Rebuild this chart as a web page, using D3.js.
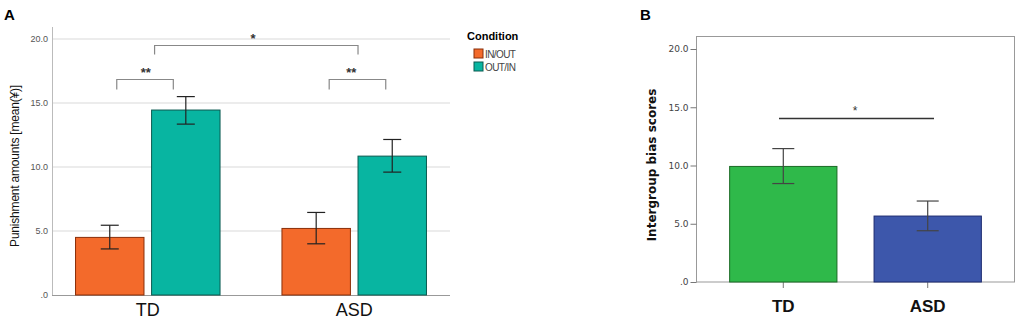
<!DOCTYPE html>
<html lang="en">
<head>
<meta charset="UTF-8">
<title>Punishment / bias</title>
<script src="https://cdn.jsdelivr.net/npm/d3@7"></script>
<style>
    body { margin: 0; background: #fff; }
    svg { font-family: "Liberation Sans", Arial, sans-serif; }
    .tickA text { font-size: 9px; fill: #555; }
    .tickB text { font-size: 9px; fill: #444; font-family: "DejaVu Sans", sans-serif; }
</style>
</head>
<body>
<script>
// ---- data ----
var groups = ["TD", "ASD"];
var conditions = ["IN/OUT", "OUT/IN"];
var condColors = ["#f36a2b", "#08b5a1"];
var condStroke = ["#8a2e08", "#0a5a50"];
var meanIn = [4.5, 5.2];          // IN/OUT
var meanOut = [14.45, 10.85];     // OUT/IN
var ciInLow = [3.6, 4.0], ciInHigh = [5.45, 6.45];
var ciOutLow = [13.35, 9.6], ciOutHigh = [15.5, 12.15];
var yTicks = [0, 5, 10, 15, 20];

var biasMean = [9.92, 5.66];
var biasLow = [8.45, 4.4];
var biasHigh = [11.45, 6.95];
var biasColors = ["#2fb94a", "#3d57ab"];
var biasStroke = ["#1a6a25", "#1c2a70"];

var width = 1021, height = 322;
var svg = d3.select("body").append("svg")
    .attr("width", width).attr("height", height);

// ================= Panel A =================
var yA = d3.scaleLinear().domain([0, 20]).range([295, 39]);
var xA = d3.scaleBand().domain(groups).range([52, 450])
    .paddingInner(0.3).paddingOuter(0.114);
var xA2 = d3.scaleBand().domain(conditions).range([0, xA.bandwidth()]).paddingInner(0.1);

svg.append("text").attr("x", 4).attr("y", 20)
    .attr("font-size", 15).attr("font-weight", "bold").text("A");

// gridlines
svg.append("g").selectAll("line").data(yTicks.slice(1)).enter().append("line")
    .attr("x1", 52).attr("x2", 450)
    .attr("y1", function (d) { return yA(d); })
    .attr("y2", function (d) { return yA(d); })
    .attr("stroke", "#d9d9d9").attr("stroke-width", 1.2);

var axA = svg.append("g").attr("class", "tickA")
    .attr("transform", "translate(52,0)")
    .call(d3.axisLeft(yA).tickValues(yTicks).tickSize(0).tickPadding(4)
        .tickFormat(function (d) { return d === 0 ? ".0" : d3.format(".1f")(d); }));
axA.select(".domain").remove();
svg.append("line").attr("x1", 52.5).attr("x2", 52.5).attr("y1", 27).attr("y2", 295)
    .attr("stroke", "#bbb");
svg.append("line").attr("x1", 52).attr("x2", 450).attr("y1", 295.5).attr("y2", 295.5)
    .attr("stroke", "#999");

// bars
var rowsA = [];
groups.forEach(function (g, i) {
    rowsA.push({g: g, c: 0, v: meanIn[i], lo: ciInLow[i], hi: ciInHigh[i]});
    rowsA.push({g: g, c: 1, v: meanOut[i], lo: ciOutLow[i], hi: ciOutHigh[i]});
});
var gA = svg.append("g");
gA.selectAll("rect").data(rowsA).enter().append("rect")
    .attr("x", function (d) { return xA(d.g) + xA2(conditions[d.c]); })
    .attr("y", function (d) { return yA(d.v); })
    .attr("width", xA2.bandwidth())
    .attr("height", function (d) { return yA(0) - yA(d.v); })
    .attr("fill", function (d) { return condColors[d.c]; })
    .attr("stroke", function (d) { return condStroke[d.c]; })
    .attr("stroke-width", 1);

function errBars(g, data, xc, y, cap) {
    var e = g.selectAll(".err").data(data).enter().append("g").attr("class", "err")
        .attr("stroke", "#222").attr("stroke-width", 1.2);
    e.append("line").attr("x1", xc).attr("x2", xc)
        .attr("y1", function (d) { return y(d.lo); }).attr("y2", function (d) { return y(d.hi); });
    e.append("line").attr("x1", function (d) { return xc(d) - cap; })
        .attr("x2", function (d) { return xc(d) + cap; })
        .attr("y1", function (d) { return y(d.hi); }).attr("y2", function (d) { return y(d.hi); });
    e.append("line").attr("x1", function (d) { return xc(d) - cap; })
        .attr("x2", function (d) { return xc(d) + cap; })
        .attr("y1", function (d) { return y(d.lo); }).attr("y2", function (d) { return y(d.lo); });
}
errBars(gA, rowsA, function (d) {
    return xA(d.g) + xA2(conditions[d.c]) + xA2.bandwidth() / 2;
}, yA, 9);

// x labels
svg.append("g").selectAll("text").data(groups).enter().append("text")
    .attr("x", function (d) { return xA(d) + xA.bandwidth() / 2; })
    .attr("y", 316).attr("text-anchor", "middle")
    .attr("font-size", 18).attr("fill", "#111")
    .text(function (d) { return d; });

// y title
svg.append("text")
    .attr("transform", "translate(19,166) rotate(-90)")
    .attr("text-anchor", "middle").attr("font-size", 12).attr("fill", "#111")
    .attr("letter-spacing", "-0.2")
    .text("Punishment amounts [mean(¥)]");

// significance brackets
function bracket(x1, x2, yTop, drop, label, lx) {
    svg.append("path")
        .attr("d", "M" + x1 + "," + (yTop + drop) + "V" + yTop + "H" + x2 + "V" + (yTop + drop))
        .attr("fill", "none").attr("stroke", "#888").attr("stroke-width", 1.2);
    svg.append("text").attr("x", lx).attr("y", yTop - 3)
        .attr("text-anchor", "middle").attr("font-size", 13).attr("font-weight", "bold")
        .attr("fill", "#333").text(label);
}
bracket(xA("TD") + xA2.bandwidth() / 2 + 7, xA("TD") + xA2("OUT/IN") + xA2.bandwidth() / 2 - 12.5, 79.5, 10, "**",
    xA("TD") + xA.bandwidth() / 2 - 2);
bracket(xA("ASD") + xA2.bandwidth() / 2 + 13, xA("ASD") + xA2("OUT/IN") + xA2.bandwidth() / 2 - 6.5, 79.5, 10, "**",
    xA("ASD") + xA.bandwidth() / 2 - 3);
bracket(xA("TD") + xA2("OUT/IN") + 3, xA("ASD") + xA2("OUT/IN"), 45.5, 9, "*", 253);

// legend
svg.append("text").attr("x", 467).attr("y", 40)
    .attr("font-size", 11).attr("font-weight", "bold").text("Condition");
var lg = svg.append("g").selectAll("g").data(conditions).enter().append("g")
    .attr("transform", function (d, i) { return "translate(474," + (49 + i * 13) + ")"; });
lg.append("rect").attr("width", 9).attr("height", 9)
    .attr("fill", function (d, i) { return condColors[i]; })
    .attr("stroke", function (d, i) { return condStroke[i]; });
lg.append("text").attr("x", 11).attr("y", 9).attr("font-size", 10)
    .attr("fill", "#444").attr("letter-spacing", "-0.6")
    .text(function (d) { return d; });

// ================= Panel B =================
var yB = d3.scaleLinear().domain([0, 20]).range([282, 49]);
var xB = d3.scaleBand().domain(groups).range([696, 1015])
    .paddingInner(0.257).paddingOuter(0.233);

svg.append("text").attr("x", 640).attr("y", 20)
    .attr("font-size", 15).attr("font-weight", "bold").text("B");

svg.append("rect").attr("x", 696.5).attr("y", 36.5)
    .attr("width", 318).attr("height", 245.5)
    .attr("fill", "none").attr("stroke", "#999");

var axB = svg.append("g").attr("class", "tickB")
    .attr("transform", "translate(696.5,0)")
    .call(d3.axisLeft(yB).tickValues(yTicks).tickSize(6).tickPadding(2)
        .tickFormat(function (d) { return d === 0 ? ".0" : d3.format(".1f")(d); }));
axB.select(".domain").remove();
axB.selectAll("line").attr("stroke", "#777");

var axBx = svg.append("g").attr("transform", "translate(0,282)")
    .call(d3.axisBottom(xB).tickSize(6).tickFormat(""));
axBx.select(".domain").remove();
axBx.selectAll("line").attr("stroke", "#777");

var rowsB = groups.map(function (g, i) {
    return {g: g, i: i, v: biasMean[i], lo: biasLow[i], hi: biasHigh[i]};
});
var gB = svg.append("g");
gB.selectAll("rect").data(rowsB).enter().append("rect")
    .attr("x", function (d) { return xB(d.g); })
    .attr("y", function (d) { return yB(d.v); })
    .attr("width", xB.bandwidth())
    .attr("height", function (d) { return yB(0) - yB(d.v); })
    .attr("fill", function (d) { return biasColors[d.i]; })
    .attr("stroke", function (d) { return biasStroke[d.i]; })
    .attr("stroke-width", 1);
errBars(gB, rowsB, function (d) { return xB(d.g) + xB.bandwidth() / 2; }, yB, 11);
gB.selectAll(".err").attr("stroke", "#444");

svg.append("g").selectAll("text").data(groups).enter().append("text")
    .attr("x", function (d) { return xB(d) + xB.bandwidth() / 2; })
    .attr("y", 312).attr("text-anchor", "middle")
    .attr("font-size", 17).attr("font-weight", "bold").attr("fill", "#111")
    .text(function (d) { return d; });

svg.append("text")
    .attr("transform", "translate(656,165) rotate(-90)")
    .attr("text-anchor", "middle").attr("font-size", 12).attr("font-weight", "bold")
    .attr("fill", "#111").attr("font-family", "DejaVu Sans, sans-serif")
    .text("Intergroup bias scores");

svg.append("line").attr("x1", 779).attr("x2", 934).attr("y1", 118.5).attr("y2", 118.5)
    .attr("stroke", "#333").attr("stroke-width", 1.3);
svg.append("text").attr("x", 855).attr("y", 115).attr("text-anchor", "middle")
    .attr("font-size", 12).attr("fill", "#333").text("*");
</script>
</body>
</html>
